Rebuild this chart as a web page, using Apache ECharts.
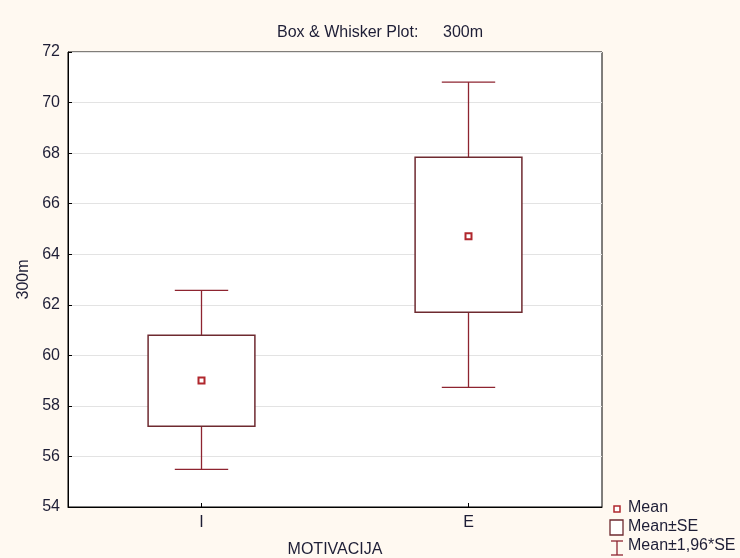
<!DOCTYPE html>
<html>
<head>
<meta charset="utf-8">
<script src="https://cdn.jsdelivr.net/npm/echarts@6/dist/echarts.min.js"></script>
<style>
html,body{margin:0;padding:0;background:#FFF9F1;}
#c{width:740px;height:558px;}
</style>
</head>
<body>
<div id="c"></div>
<script>
var categories = ['I', 'E'];
var means = [59.0, 64.71];
var seLow = [57.19, 61.70];
var seHigh = [60.79, 67.84];
var ciLow = [55.49, 58.73];
var ciHigh = [62.57, 70.81];
var yTicks = [54, 56, 58, 60, 62, 64, 66, 68, 70, 72];

var boxColor = '#6E2A30';
var whiskColor = '#8E2430';
var meanColor = '#B0272D';
var textColor = '#1E1E36';
var font = 'Liberation Sans, Arial, sans-serif';
var fs = 16;

var chart = echarts.init(document.getElementById('c'), null, {renderer: 'canvas'});

var boxData = categories.map(function (c, i) { return [i, seLow[i], seHigh[i]]; });
var whiskData = categories.map(function (c, i) { return [i, ciLow[i], seLow[i], seHigh[i], ciHigh[i]]; });
var meanData = categories.map(function (c, i) { return [i, means[i]]; });

var option = {
  backgroundColor: '#FFF9F1',
  animation: false,
  title: [
    {text: 'Box & Whisker Plot:', left: 272, top: 20,
      textStyle: {fontSize: fs, fontWeight: 'normal', color: textColor, fontFamily: font}},
    {text: '300m', left: 438, top: 20,
      textStyle: {fontSize: fs, fontWeight: 'normal', color: textColor, fontFamily: font}}
  ],
  grid: {left: 68, right: 138, top: 52, bottom: 51, outerBoundsMode: 'none', containLabel: false,
    show: true, backgroundColor: '#ffffff', borderColor: '#000000', borderWidth: 1},
  xAxis: {
    type: 'category', data: categories,
    name: 'MOTIVACIJA', nameLocation: 'middle', nameGap: 35,
    nameTextStyle: {fontSize: fs, color: textColor, fontFamily: font},
    axisLine: {lineStyle: {color: '#000', width: 1}},
    axisTick: {show: true, inside: true, alignWithLabel: true, length: 4, lineStyle: {color: '#000'}},
    axisLabel: {fontSize: fs, color: textColor, fontFamily: font, margin: 8},
    splitLine: {show: false}
  },
  yAxis: {
    type: 'value', min: 54, max: 72, interval: 2,
    name: '300m', nameLocation: 'middle', nameGap: 34,
    nameTextStyle: {fontSize: fs, color: textColor, fontFamily: font},
    axisLine: {show: true, lineStyle: {color: '#000', width: 1}},
    axisTick: {show: true, inside: true, length: 4, lineStyle: {color: '#000'}},
    axisLabel: {fontSize: fs, color: textColor, fontFamily: font, margin: 8,
      formatter: function (v) { return yTicks.indexOf(v) >= 0 ? String(v) : ''; }},
    splitLine: {show: true, lineStyle: {color: '#E3E3E3', width: 1}}
  },
  series: [
    {
      name: 'Mean±1,96*SE', type: 'custom', z: 2,
      data: whiskData,
      renderItem: function (params, api) {
        var x = api.value(0);
        var pLo = api.coord([x, api.value(1)]);
        var pBoxLo = api.coord([x, api.value(2)]);
        var pBoxHi = api.coord([x, api.value(3)]);
        var pHi = api.coord([x, api.value(4)]);
        var cap = api.size([1, 0])[0] * 0.2 / 2;
        var st = {stroke: whiskColor, lineWidth: 1.3};
        return {
          type: 'group',
          children: [
            {type: 'line', shape: {x1: pLo[0], y1: pLo[1], x2: pBoxLo[0], y2: pBoxLo[1]}, style: st},
            {type: 'line', shape: {x1: pBoxHi[0], y1: pBoxHi[1], x2: pHi[0], y2: pHi[1]}, style: st},
            {type: 'line', shape: {x1: pLo[0] - cap, y1: pLo[1], x2: pLo[0] + cap, y2: pLo[1]}, style: st},
            {type: 'line', shape: {x1: pHi[0] - cap, y1: pHi[1], x2: pHi[0] + cap, y2: pHi[1]}, style: st}
          ]
        };
      }
    },
    {
      name: 'Mean±SE', type: 'custom', z: 3,
      data: boxData,
      renderItem: function (params, api) {
        var x = api.value(0);
        var lo = api.coord([x, api.value(1)]);
        var hi = api.coord([x, api.value(2)]);
        var w = api.size([1, 0])[0] * 0.4;
        return {
          type: 'rect',
          shape: {x: lo[0] - w / 2, y: hi[1], width: w, height: lo[1] - hi[1]},
          style: {fill: '#ffffff', stroke: boxColor, lineWidth: 1.5}
        };
      }
    },
    {
      name: 'Mean', type: 'scatter', z: 4,
      data: meanData,
      symbol: 'rect', symbolSize: 6,
      itemStyle: {color: '#ffffff', borderColor: meanColor, borderWidth: 2, opacity: 1}
    }
  ],
  graphic: [
    {type: 'rect', shape: {x: 614, y: 506, width: 6, height: 6}, style: {fill: '#fff', stroke: meanColor, lineWidth: 1.5}},
    {type: 'text', x: 628, y: 508, style: {text: 'Mean', fill: textColor, font: fs + 'px ' + font, verticalAlign: 'middle'}},
    {type: 'rect', shape: {x: 610, y: 520, width: 13, height: 15}, style: {fill: '#fff', stroke: boxColor, lineWidth: 1.3}},
    {type: 'text', x: 628, y: 527, style: {text: 'Mean±SE', fill: textColor, font: fs + 'px ' + font, verticalAlign: 'middle'}},
    {type: 'group', children: [
      {type: 'line', shape: {x1: 611, y1: 541, x2: 623, y2: 541}, style: {stroke: whiskColor, lineWidth: 1.3}},
      {type: 'line', shape: {x1: 617, y1: 541, x2: 617, y2: 555}, style: {stroke: whiskColor, lineWidth: 1.3}},
      {type: 'line', shape: {x1: 611, y1: 555, x2: 623, y2: 555}, style: {stroke: whiskColor, lineWidth: 1.3}}
    ]},
    {type: 'text', x: 628, y: 546, style: {text: 'Mean±1,96*SE', fill: textColor, font: fs + 'px ' + font, verticalAlign: 'middle'}}
  ]
};
chart.setOption(option);
</script>
</body>
</html>
